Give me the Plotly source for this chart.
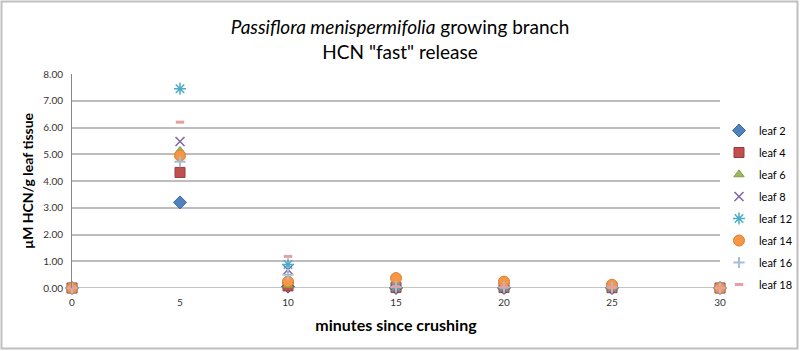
import plotly.graph_objects as go

minutes = [0, 5, 10, 15, 20, 25, 30]
series_names = ["leaf 2", "leaf 4", "leaf 6", "leaf 8", "leaf 12", "leaf 14", "leaf 16", "leaf 18"]
leaf2 = [0.00, 3.20, 0.05, 0.00, 0.00, 0.00, 0.00]
leaf4 = [0.00, 4.32, 0.08, 0.02, 0.02, 0.01, 0.00]
leaf6 = [0.00, 5.12, 0.10, 0.06, 0.05, 0.04, 0.00]
leaf8 = [0.00, 5.48, 0.68, 0.05, 0.03, 0.02, 0.00]
leaf12 = [0.00, 7.45, 0.88, 0.04, 0.03, 0.02, 0.00]
leaf14 = [0.00, 4.95, 0.24, 0.37, 0.24, 0.12, 0.00]
leaf16 = [0.00, 4.72, 0.50, 0.04, 0.03, 0.02, 0.00]
leaf18 = [0.00, 6.20, 1.18, 0.05, 0.03, 0.02, 0.00]
values = [leaf2, leaf4, leaf6, leaf8, leaf12, leaf14, leaf16, leaf18]
y_ticks = [0, 1, 2, 3, 4, 5, 6, 7, 8]
x_ticks = [0, 5, 10, 15, 20, 25, 30]

styles = [
    dict(symbol="diamond", size=10, color="#4F81BD", line=dict(color="#3A6AA5", width=1)),
    dict(symbol="square", size=10, color="#C0504D", line=dict(color="#9E3B38", width=1)),
    dict(symbol="triangle-up", size=9, color="#9BBB59", line=dict(color="#7E9C43", width=1)),
    dict(symbol="x-thin-open", size=9, color="#8064A2", line=dict(color="#8064A2", width=1.5)),
    dict(symbol="asterisk-open", size=10, color="#4BACC6", line=dict(color="#4BACC6", width=1.5)),
    dict(symbol="circle", size=11, color="#F79646", line=dict(color="#D98130", width=1)),
    dict(symbol="cross-thin-open", size=8, color="#A9BCD8", line=dict(color="#A9BCD8", width=2)),
    dict(symbol="line-ew-open", size=6, color="#E4A0A3", line=dict(color="#E4A0A3", width=3)),
]

fig = go.Figure()
for name, vals, st in zip(series_names, values, styles):
    fig.add_trace(go.Scatter(
        x=minutes, y=vals, mode="markers", name=name, legendgroup=name,
        marker=st, cliponaxis=False,
    ))

L, R, T, B = 72, 80, 74, 63
W, H = 800, 351
pw, ph = W - L - R, H - T - B

def px_x(p):
    return (p - L) / pw

def px_y(p):
    return (H - B - p) / ph

fig.add_shape(type="rect", xref="paper", yref="paper",
              x0=px_x(1.5), x1=px_x(797.5), y0=px_y(348.5), y1=px_y(1.5),
              line=dict(color="#BFBFBF", width=2), fillcolor="rgba(0,0,0,0)", layer="below")

fig.update_layout(
    width=W, height=H,
    margin=dict(l=L, r=R, t=T, b=B, autoexpand=False),
    paper_bgcolor="white", plot_bgcolor="white",
    font=dict(family="Lato, 'Open Sans', sans-serif", color="#000000"),
    title=dict(text="<i>Passiflora menispermifolia</i> growing branch<br>HCN \"fast\" release",
               x=0.5, xref="container", xanchor="center", y=1 - 34 / H, yanchor="top",
               font=dict(size=19, color="#000000")),
    showlegend=True,
    legend=dict(x=px_x(719), y=px_y(116), xanchor="left", yanchor="top",
                font=dict(size=11, color="#000000"), tracegroupgap=3,
                bgcolor="rgba(0,0,0,0)", itemwidth=30),
    xaxis=dict(range=[0, 30], tickvals=x_ticks, ticktext=[str(v) for v in x_ticks],
               showgrid=False, zeroline=False, showline=False,
               tickfont=dict(size=10, color="#333333"), ticks="", ticklabelstandoff=7,
               title=dict(text="<b>minutes since crushing</b>", font=dict(size=16), standoff=12)),
    yaxis=dict(range=[0, 8], tickvals=y_ticks, ticktext=[f"{v:.2f}" for v in y_ticks],
               showgrid=True, gridcolor="#BDBDBD", gridwidth=1.5,
               zeroline=False, showline=True, linecolor="#888888", linewidth=1,
               tickfont=dict(size=10, color="#333333"), ticks="", ticklabelstandoff=6,
               title=dict(text="<b>µM HCN/g leaf tissue</b>", font=dict(size=14), standoff=6)),
)
# x axis baseline at 0
fig.add_shape(type="line", xref="paper", yref="y", x0=0, x1=1, y0=0, y1=0,
              line=dict(color="#888888", width=1), layer="below")

fig.write_html("out.html")
